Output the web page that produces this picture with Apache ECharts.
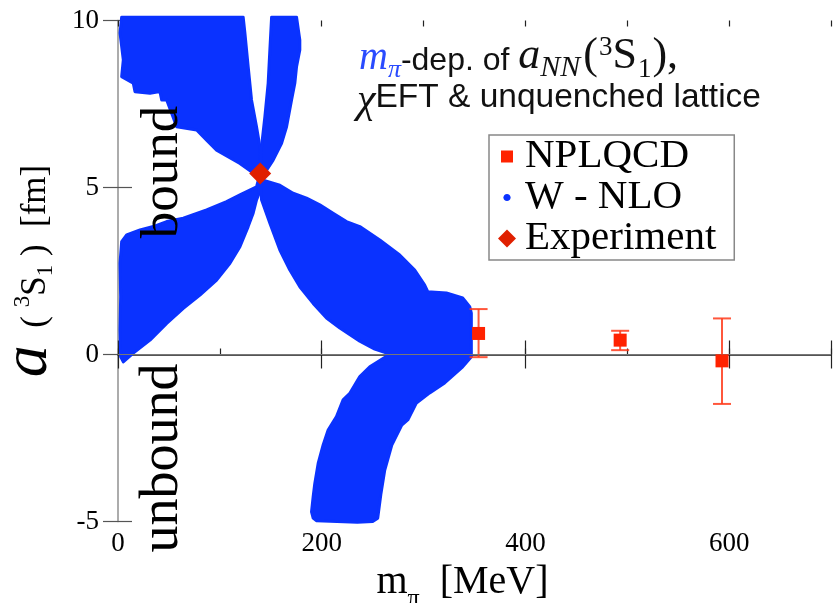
<!DOCTYPE html>
<html><head><meta charset="utf-8">
<script src="https://cdn.jsdelivr.net/npm/echarts@6/dist/echarts.min.js"></script>
<style>html,body{margin:0;padding:0;background:#fff}#c{width:833px;height:603px}</style>
</head><body><div id="c"></div>
<script>
// ---------- data ----------
const xTickLabels = [0, 200, 400, 600];
const yTickLabels = [-5, 0, 5, 10];

// NPLQCD lattice points: m_pi [MeV], a [fm], error range
const nplqcdMpi  = [354, 493, 593];
const nplqcdA    = [0.63, 0.43, -0.19];
const nplqcdLow  = [-0.08, 0.13, -1.48];
const nplqcdHigh = [1.36, 0.71, 1.08];

// Experiment point
const expMpi = [139.6];
const expA   = [5.42];

// W - NLO band outlines (m_pi, a) traced from the dense dot clouds
const bandUpperLeft = [[3.6,10.1],[2.0,9.62],[5.2,8.82],[3.6,8.32],[15.0,8.12],[16.7,7.87],[31.4,7.82],[41.2,7.87],[42.9,7.62],[47.8,7.62],[57.6,6.82],[77.2,6.72],[87.0,6.42],[96.8,6.12],[119.7,5.72],[131.1,5.47],[139.5,5.42],[139.3,6.22],[136.0,6.82],[131.1,7.62],[127.8,8.62],[124.6,9.62],[122.9,10.1]];
const bandUpperRight = [[150.8,10.1],[149.1,9.12],[147.4,8.12],[144.2,7.12],[140.9,6.22],[139.5,5.42],[145.9,5.52],[152.3,5.82],[160.6,6.32],[165.5,6.82],[170.4,7.62],[173.6,8.12],[175.3,8.62],[178.5,9.12],[178.5,9.42],[175.3,10.1]];
const bandLowerLeft = [[139.5,5.42],[136.0,5.02],[119.7,4.78],[106.6,4.58],[87.0,4.33],[64.1,4.08],[47.8,3.98],[34.6,3.83],[21.6,3.73],[8.5,3.58],[3.6,3.38],[2.0,2.73],[2.6,1.73],[2.0,0.73],[2.6,-0.07],[5.2,-0.22],[15.0,0.04],[31.4,0.43],[47.8,0.93],[64.1,1.38],[80.4,1.78],[96.8,2.23],[109.9,2.73],[119.7,3.23],[127.8,3.83],[132.7,4.23],[136.0,4.63],[138.6,4.83]];
const bandLowerRight = [[139.5,5.42],[142.5,5.22],[158.9,5.07],[171.9,4.83],[185.1,4.68],[198.1,4.48],[211.2,4.23],[224.3,3.98],[237.4,3.83],[257,3.43],[276.6,2.98],[291.3,2.53],[301.1,2.08],[304.1,1.88],[322.4,1.84],[338.4,1.69],[345.3,1.43],[346.9,1.24],[346.9,-0.07],[338.4,-0.37],[320.7,-0.85],[306,-1.15],[293,-1.45],[284.5,-1.96],[278.6,-2.11],[268.8,-2.71],[261.9,-3.46],[258,-4.2],[255,-4.9],[250,-5.0],[235,-5.02],[215,-5.0],[195,-4.98],[191.6,-4.9],[190,-4.71],[191.6,-4.26],[193.2,-3.86],[196.5,-3.26],[201.4,-2.71],[206.3,-2.26],[214.5,-1.86],[221,-1.36],[227.6,-1.16],[237.4,-0.66],[247.2,-0.37],[266.8,0.01],[252.1,0.16],[237.4,0.40],[217.8,0.79],[204.7,1.09],[191.6,1.53],[178.5,2.03],[168.7,2.53],[158.9,3.13],[149.1,3.93],[140.9,4.63]];
const bands = [bandUpperLeft, bandUpperRight, bandLowerLeft, bandLowerRight];

// ---------- styles ----------
const SERIF = '"Liberation Serif","Times New Roman",serif';
const SANS = '"Liberation Sans",Arial,sans-serif';
const BLUE = '#0a32ff';
const RED = '#ff2200';
const DRED = '#e02000';

const chart = echarts.init(document.getElementById('c'), null, {renderer: 'canvas'});

const baseX = {type: 'value', min: 0, max: 700, splitLine: {show: false}, axisLabel: {show: false}};
const baseY = {type: 'value', min: -5, max: 10, interval: 5, splitLine: {show: false}, axisLabel: {show: false}};

const option = {
  animation: false,
  backgroundColor: '#fff',
  grid: {left: 118, right: 2, top: 20.5, bottom: 81.5, containLabel: false, outerBoundsMode: 'none'},
  xAxis: [
    Object.assign({}, baseX, {
      position: 'bottom', interval: 200,
      axisLine: {lineStyle: {color: '#999', width: 1.5}},
      axisTick: {inside: true, length: 14, lineStyle: {color: '#222', width: 1.2}},
      axisLabel: {show: true, fontFamily: SERIF, fontSize: 27, color: '#000', margin: 9,
        formatter: v => xTickLabels.indexOf(v) >= 0 ? String(v) : ''},
      name: '{m|m}{pi|π}{t|  [MeV]}',
      nameLocation: 'middle', nameGap: 38,
      nameTextStyle: {fontFamily: SERIF, fontSize: 38, color: '#000',
        rich: {
          m: {fontFamily: SERIF, fontSize: 40, lineHeight: 40, verticalAlign: 'bottom', padding: [0,0,8,0]},
          pi: {fontFamily: SERIF, fontSize: 24, lineHeight: 24, verticalAlign: 'bottom', padding: [0,0,0,0]},
          t: {fontFamily: SERIF, fontSize: 40, lineHeight: 40, verticalAlign: 'bottom', padding: [0,24,8,0]}
        }}
    }),
    Object.assign({}, baseX, {
      position: 'top', interval: 200,
      axisLine: {lineStyle: {color: '#555', width: 2}},
      axisTick: {inside: true, length: 14, lineStyle: {color: '#222', width: 1.2}}
    }),
    Object.assign({}, baseX, {
      position: 'bottom', interval: 100,
      axisLine: {show: false},
      axisTick: {inside: true, length: 6, lineStyle: {color: '#222', width: 1.2}}
    }),
    Object.assign({}, baseX, {
      position: 'top', interval: 100,
      axisLine: {show: false},
      axisTick: {inside: true, length: 6, lineStyle: {color: '#222', width: 1.2}}
    })
  ],
  yAxis: [
    Object.assign({}, baseY, {
      position: 'left',
      axisLine: {lineStyle: {color: '#999', width: 1.5}},
      axisTick: {inside: false, length: 15, lineStyle: {color: '#555', width: 1.2}},
      axisLabel: {show: true, fontFamily: SERIF, fontSize: 27, color: '#000', margin: 19,
        formatter: v => yTickLabels.indexOf(v) >= 0 ? String(v) : ''},
      name: '{a|a}{p|  ( }{sup|3}{p|S}{sub|1}{p| )  [fm]}',
      nameLocation: 'middle', nameRotate: 90, nameGap: 52,
      nameTextStyle: {fontFamily: SERIF, color: '#000',
        rich: {
          a: {fontFamily: SERIF, fontStyle: 'italic', fontSize: 64, lineHeight: 64, verticalAlign: 'bottom', padding: [0,0,0,0]},
          p: {fontFamily: SERIF, fontSize: 35, lineHeight: 35, verticalAlign: 'bottom', padding: [0,0,8,0]},
          sup: {fontFamily: SERIF, fontSize: 23, lineHeight: 23, verticalAlign: 'bottom', padding: [0,0,27,0]},
          sub: {fontFamily: SERIF, fontSize: 23, lineHeight: 23, verticalAlign: 'bottom', padding: [0,0,4,0]}
        }}
    }),
    Object.assign({}, baseY, {
      position: 'left',
      axisLine: {show: false},
      axisTick: {inside: true, length: 14, lineStyle: {color: '#555', width: 1.2}}
    }),
    Object.assign({}, baseY, {
      position: 'right',
      axisLine: {lineStyle: {color: '#aaa', width: 1.5}},
      axisTick: {show: false}
    })
  ],
  legend: {
    left: 489, top: 135,
    orient: 'vertical',
    itemWidth: 26, itemHeight: 26, itemGap: 0,
    padding: [1, 18, 1, 5],
    borderColor: '#888', borderWidth: 1.5, backgroundColor: '#fff',
    selectedMode: false,
    textStyle: {fontFamily: SERIF, fontSize: 41, color: '#000', lineHeight: 41},
    data: [
      {name: 'NPLQCD', icon: 'path://M0,0M26,26M7,7H19V19H7Z'},
      {name: 'W - NLO', icon: 'path://M0,0M26,26M9.4,13C9.4,11 11,9.4 13,9.4C15,9.4 16.6,11 16.6,13C16.6,15 15,16.6 13,16.6C11,16.6 9.4,15 9.4,13Z'},
      {name: 'Experiment', icon: 'path://M0,0M26,26M13,4L22,13L13,22L4,13Z'}
    ]
  },
  graphic: [
    {type: 'text', x: 163, y: 172, rotation: Math.PI / 2, z: 50,
      style: {text: 'bound', font: '53px ' + SERIF, fill: '#000', align: 'center', verticalAlign: 'middle'}},
    {type: 'text', x: 163, y: 458, rotation: Math.PI / 2, z: 50,
      style: {text: 'unbound', font: '54px ' + SERIF, fill: '#000', align: 'center', verticalAlign: 'middle'}},
    {type: 'text', x: 359, y: 61, z: 50,
      style: {
        text: '{mi|m}{pi|π}{t|-dep. of }{a|a}{nn|NN}{p|(}{sup|3}{p|S}{sub|1}{p|),}',
        verticalAlign: 'middle', align: 'left',
        rich: {
          mi: {fontFamily: SERIF, fontStyle: 'italic', fontSize: 40, lineHeight: 40, fill: '#2a4bff', verticalAlign: 'bottom', padding: [0,0,5,0]},
          pi: {fontFamily: SERIF, fontStyle: 'italic', fontSize: 26, lineHeight: 26, fill: '#2a4bff', verticalAlign: 'bottom', padding: [0,0,0,0]},
          t: {fontFamily: SANS, fontSize: 32, lineHeight: 32, fill: '#111', verticalAlign: 'bottom', padding: [0,0,6,0]},
          a: {fontFamily: SERIF, fontStyle: 'italic', fontSize: 44, lineHeight: 44, fill: '#111', verticalAlign: 'bottom', padding: [0,0,5,0]},
          nn: {fontFamily: SERIF, fontStyle: 'italic', fontSize: 30, lineHeight: 30, fill: '#111', verticalAlign: 'bottom', padding: [0,3,0,0]},
          p: {fontFamily: SERIF, fontSize: 44, lineHeight: 44, fill: '#111', verticalAlign: 'bottom', padding: [0,1,5,0]},
          sup: {fontFamily: SERIF, fontSize: 27, lineHeight: 27, fill: '#111', verticalAlign: 'bottom', padding: [0,0,22,0]},
          sub: {fontFamily: SERIF, fontSize: 27, lineHeight: 27, fill: '#111', verticalAlign: 'bottom', padding: [0,1,0,0]}
        }
      }},
    {type: 'text', x: 357, y: 101, z: 50,
      style: {
        text: '{chi|χ}{t|EFT & unquenched lattice}',
        verticalAlign: 'middle', align: 'left',
        rich: {
          chi: {fontFamily: SERIF, fontStyle: 'italic', fontSize: 42, lineHeight: 42, fill: '#111', verticalAlign: 'bottom', padding: [0,0,0,0]},
          t: {fontFamily: SANS, fontSize: 33.5, lineHeight: 33, fill: '#111', verticalAlign: 'bottom', padding: [0,0,7,0]}
        }
      }}
  ],
  series: [
    {
      name: 'W - NLO', type: 'custom', xAxisIndex: 0, yAxisIndex: 0, z: 2,
      itemStyle: {color: BLUE},
      data: bands.map((b, i) => [b[0][0], b[0][1], i]),
      encode: {x: 0, y: 1},
      renderItem: function (params, api) {
        const poly = bands[api.value(2)];
        const pts = poly.map(p => api.coord(p));
        return {type: 'polygon', shape: {points: pts},
          style: {fill: BLUE, stroke: BLUE, lineWidth: 3, lineJoin: 'round'}};
      }
    },
    {
      name: 'NPLQCD-err', type: 'custom', xAxisIndex: 0, yAxisIndex: 0, z: 4,
      itemStyle: {color: RED},
      data: nplqcdMpi.map((x, i) => [x, nplqcdLow[i], nplqcdHigh[i]]),
      encode: {x: 0, y: [1, 2]},
      renderItem: function (params, api) {
        const lo = api.coord([api.value(0), api.value(1)]);
        const hi = api.coord([api.value(0), api.value(2)]);
        const hw = 9;
        const st = {stroke: '#ff3a1a', lineWidth: 2, opacity: 0.85};
        return {type: 'group', children: [
          {type: 'line', shape: {x1: lo[0], y1: lo[1], x2: hi[0], y2: hi[1]}, style: st},
          {type: 'line', shape: {x1: lo[0] - hw, y1: lo[1], x2: lo[0] + hw, y2: lo[1]}, style: st},
          {type: 'line', shape: {x1: hi[0] - hw, y1: hi[1], x2: hi[0] + hw, y2: hi[1]}, style: st}
        ]};
      }
    },
    {
      name: 'NPLQCD', type: 'scatter', xAxisIndex: 0, yAxisIndex: 0, z: 5,
      symbol: 'rect', symbolSize: 13,
      itemStyle: {color: RED, opacity: 1},
      data: nplqcdMpi.map((x, i) => [x, nplqcdA[i]]),
      markLine: {
        silent: true, symbol: ['none', 'none'], label: {show: false},
        lineStyle: {color: '#777', width: 1.2, type: 'solid'},
        data: [{yAxis: 0}]
      }
    },
    {
      name: 'Experiment', type: 'scatter', xAxisIndex: 0, yAxisIndex: 0, z: 6,
      symbol: 'diamond', symbolSize: 22,
      itemStyle: {color: DRED, opacity: 1},
      data: expMpi.map((x, i) => [x, expA[i]])
    }
  ]
};
chart.setOption(option);
</script></body></html>
